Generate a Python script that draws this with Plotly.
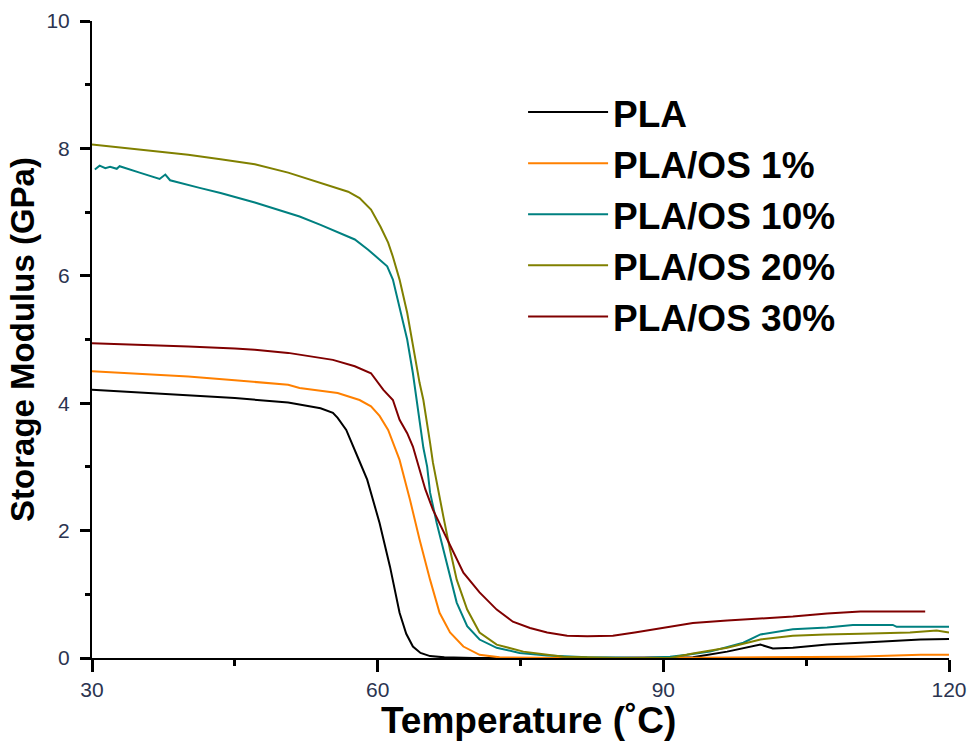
import plotly.graph_objects as go

# ---- data ----
pla_x = [30, 35, 40.1, 45, 50.6, 51.8, 54.0, 55.3, 55.8, 56.7, 57.1, 58.0, 58.9, 60.2, 61.3, 62.3, 63.0,
         63.7, 64.5, 65.5, 67, 70, 80, 90, 93.1, 96.7, 100.2, 101.5, 103.6, 107.2, 110.7, 114.1, 117, 120]
pla_y = [4.21, 4.17, 4.13, 4.08, 4.01, 3.98, 3.92, 3.85, 3.77, 3.58, 3.43, 3.12, 2.80, 2.12, 1.43, 0.71, 0.38,
         0.18, 0.08, 0.03, 0.01, 0.0, 0.0, 0.0, 0.01, 0.10, 0.21, 0.15, 0.16, 0.21, 0.24, 0.27, 0.29, 0.30]

os1_x = [30, 35, 40.1, 45, 50.6, 51.8, 55.8, 58.1, 59.3, 60.2, 61.1, 62.3, 63.4, 64.4, 65.5, 66.5, 67.6,
         69.0, 70.7, 72.8, 80, 90, 100, 110, 117, 120]
os1_y = [4.50, 4.46, 4.42, 4.36, 4.29, 4.24, 4.16, 4.05, 3.95, 3.80, 3.58, 3.11, 2.48, 1.86, 1.23, 0.71, 0.40,
         0.18, 0.05, 0.01, 0.0, 0.0, 0.01, 0.02, 0.05, 0.05]

os10_x = [30.3, 30.8, 31.4, 31.9, 32.6, 32.9, 35.0, 37.1, 37.7, 38.2, 41.3, 43.5, 47.1, 50.6, 51.8, 54.0,
          55.3, 57.6, 59.0, 61.0, 61.6, 62.3, 63.1, 63.7, 64.1, 64.4, 64.8, 65.2, 65.5, 66.2, 66.9, 67.6,
          68.3, 69.4, 70.7, 72.5, 74.9, 77.8, 82.0, 88.0, 90.7, 92.5, 94.9, 98.4, 100.2, 103.6, 107.2,
          109.9, 114.1, 114.5, 120.0]
os10_y = [7.67, 7.73, 7.69, 7.71, 7.68, 7.72, 7.62, 7.52, 7.59, 7.50, 7.38, 7.30, 7.15, 6.99, 6.93, 6.80,
          6.72, 6.57, 6.41, 6.15, 5.94, 5.52, 5.00, 4.47, 4.05, 3.80, 3.30, 3.00, 2.60, 2.12, 1.70, 1.28,
          0.87, 0.50, 0.29, 0.16, 0.08, 0.04, 0.01, 0.0, 0.02, 0.05, 0.10, 0.24, 0.37, 0.45, 0.48,
          0.52, 0.52, 0.49, 0.49]

os20_x = [30, 33, 36, 40.1, 43.5, 47.1, 50.6, 54.0, 56.9, 58.1, 59.3, 60.3, 61.1, 61.6, 62.3, 63.1, 63.7,
          64.4, 64.8, 65.2, 65.5, 65.8, 66.2, 66.9, 67.6, 68.3, 69.4, 70.7, 72.5, 75.3, 79.5, 85, 90.7,
          93.1, 96.7, 100.2, 103.6, 107.0, 110.7, 115.9, 118.7, 120]
os20_y = [8.06, 8.01, 7.96, 7.90, 7.83, 7.75, 7.62, 7.46, 7.32, 7.22, 7.04, 6.77, 6.52, 6.30, 5.94, 5.42, 4.89,
          4.32, 4.05, 3.69, 3.38, 3.07, 2.75, 2.22, 1.70, 1.23, 0.76, 0.40, 0.21, 0.10, 0.02, 0.0, 0.0,
          0.07, 0.16, 0.29, 0.35, 0.37, 0.38, 0.40, 0.43, 0.40]

os30_x = [30, 35, 40.1, 45, 47.1, 50.6, 54.0, 55.3, 57.6, 58.9, 59.3, 60.6, 61.6, 62.3, 63.1, 63.7, 64.4,
          65.0, 65.8, 67.3, 69.0, 70.7, 72.5, 74.2, 76.0, 77.8, 79.9, 82.0, 84.7, 87.0, 89.7, 93.1, 96.7,
          100.2, 103.6, 107.2, 110.7, 114.0, 117.5]
os30_y = [4.94, 4.92, 4.89, 4.86, 4.84, 4.79, 4.71, 4.68, 4.58, 4.50, 4.47, 4.21, 4.05, 3.74, 3.53, 3.32, 2.95,
          2.65, 2.33, 1.86, 1.34, 1.03, 0.76, 0.57, 0.47, 0.40, 0.35, 0.34, 0.35, 0.40, 0.47, 0.55, 0.59,
          0.62, 0.65, 0.70, 0.73, 0.73, 0.73]

names = ["PLA", "PLA/OS 1%", "PLA/OS 10%", "PLA/OS 20%", "PLA/OS 30%"]
colors = ["#000000", "#ff8000", "#008080", "#808000", "#800000"]
series = [(pla_x, pla_y), (os1_x, os1_y), (os10_x, os10_y), (os20_x, os20_y), (os30_x, os30_y)]

x_range = [30, 120]
y_range = [0, 10]
x_major = [30, 60, 90, 120]
y_major = [0, 2, 4, 6, 8, 10]
x_title = "Temperature (˚C)"
y_title = "Storage Modulus (GPa)"

fig = go.Figure()
for i, ((xs, ys), name, col) in enumerate(zip(series, names, colors)):
    fig.add_trace(go.Scatter(x=xs, y=ys, mode="lines", name=name, legendgroup=str(i),
                             line=dict(color=col, width=2)))

tick_font = dict(family="Liberation Sans, Arial", size=21, color="#2b3450")
fig.update_layout(
    template="none",
    width=977, height=746,
    margin=dict(l=92, r=28, t=21, b=88),
    legend=dict(x=0.503, y=0.905, xanchor="left", yanchor="top",
                font=dict(family="Liberation Sans, Arial", size=37, color="black", weight="bold"),
                itemwidth=80, tracegroupgap=0, bgcolor="rgba(0,0,0,0)"),
)
fig.update_xaxes(range=x_range, tickmode="array", tickvals=x_major, ticks="outside", ticklen=12,
                 tickwidth=3, tickcolor="black", showline=True, linecolor="black", linewidth=2,
                 showgrid=False, zeroline=False, tickfont=tick_font,
                 minor=dict(dtick=15, tick0=30, ticks="outside", ticklen=6, tickwidth=3,
                            tickcolor="black", showgrid=False))
fig.update_yaxes(range=y_range, tickmode="array", tickvals=y_major, ticks="outside", ticklen=10,
                 tickwidth=3, tickcolor="black", showline=True, linecolor="black", linewidth=2,
                 showgrid=False, zeroline=False, tickfont=tick_font, ticklabelstandoff=6,
                 minor=dict(dtick=1, tick0=0, ticks="outside", ticklen=5, tickwidth=3,
                            tickcolor="black", showgrid=False),
                 title=dict(text=y_title, standoff=2,
                            font=dict(family="Liberation Sans, Arial", size=33, color="black", weight="bold")))

fig.add_annotation(text=x_title, xref="paper", yref="paper", x=0.509, y=-0.0977,
                   xanchor="center", yanchor="middle", showarrow=False,
                   font=dict(family="Liberation Sans, Arial", size=37, color="black", weight="bold"))

fig.write_html("out.html")
